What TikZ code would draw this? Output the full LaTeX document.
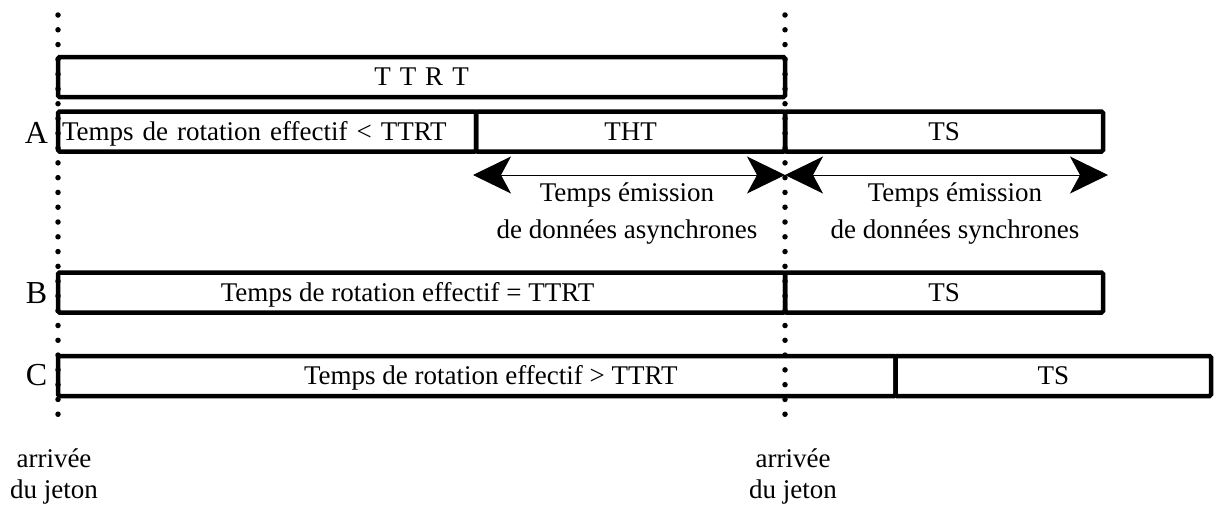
\documentclass[tikz,border=0pt]{standalone}
\usepackage{fontspec}
\setmainfont{Liberation Serif}
\usetikzlibrary{arrows.meta}
\begin{document}
\begin{tikzpicture}[x=1pt,y=-1pt,
  every node/.style={font=\fontsize{27pt}{33pt}\selectfont},
  captext/.style={text height=17.9pt, text depth=0pt},
  box/.style={draw, line width=4.5pt, rounded corners=1.5pt, inner sep=0pt, outer sep=0pt, minimum height=40pt, captext},
  rowlabel/.style={font=\fontsize{32pt}{36pt}\selectfont, inner sep=0pt, text height=21.2pt, text depth=0pt},
  dotline/.style={line width=5.5pt, line cap=round, dash pattern=on 0pt off 14.786pt},
  spanarrow/.style={line width=1pt, {Stealth[length=38pt,width=37pt,inset=10pt]}-{Stealth[length=38pt,width=37pt,inset=10pt]}},
  note/.style={align=center, inner sep=0pt}
]
\useasboundingbox (0,0) rectangle (1214,509);

% TTRT reference box
\node[box, minimum width=727pt] (ttrt) at (421.5,77) {T\kern9pt T\kern9pt R\kern9pt T};

% Row A
\node[box, minimum width=418pt, text width=410pt, inner xsep=4pt, align=left] (a1) at (267,131.5) {Temps de rotation effectif < TTRT};
\node[box, minimum width=309pt] (a2) at (630.5,131.5) {THT};
\node[box, minimum width=318pt] (a3) at (944,131.5) {TS};
\node[rowlabel] (la) at (36.5,132.5) {A};

% Arrows of row A
\coordinate (arl) at (473,175);
\coordinate (arm) at (785,175);
\coordinate (arr) at (1108,175);
\draw[spanarrow] (arl) -- (arm);
\draw[spanarrow] (arm) -- (arr);
\node[note] (tasync) at (627,214) {Temps émission\\[4pt]de données asynchrones};
\node[note] (tsync) at (955,214) {Temps émission\\[4pt]de données synchrones};

% Row B
\node[box, minimum width=727pt, label={[captext, xshift=-14pt]center:Temps de rotation effectif = TTRT}] (b1) at (421.5,292.5) {};
\node[box, minimum width=318pt] (b2) at (944,292.5) {TS};
\node[rowlabel] (lb) at (36.5,292.5) {B};

% Row C
\node[box, minimum width=837.5pt, label={[captext, xshift=14pt]center:Temps de rotation effectif > TTRT}] (c1) at (476.75,376) {};
\node[box, minimum width=315.5pt] (c2) at (1053.25,376) {TS};
\node[rowlabel] (lc) at (36.5,375) {C};

% Token arrival dotted lines
\coordinate (d1t) at (58,15);
\coordinate (d1b) at (58,429);
\coordinate (d2t) at (785,15);
\coordinate (d2b) at (785,429);
\draw[dotline] (d1t) -- (d1b);
\draw[dotline] (d2t) -- (d2b);

\node[note] (arr1) at (54,476) {arrivée\\[-2pt]du jeton};
\node[note] (arr2) at (793,476) {arrivée\\[-2pt]du jeton};
\end{tikzpicture}
\end{document}
